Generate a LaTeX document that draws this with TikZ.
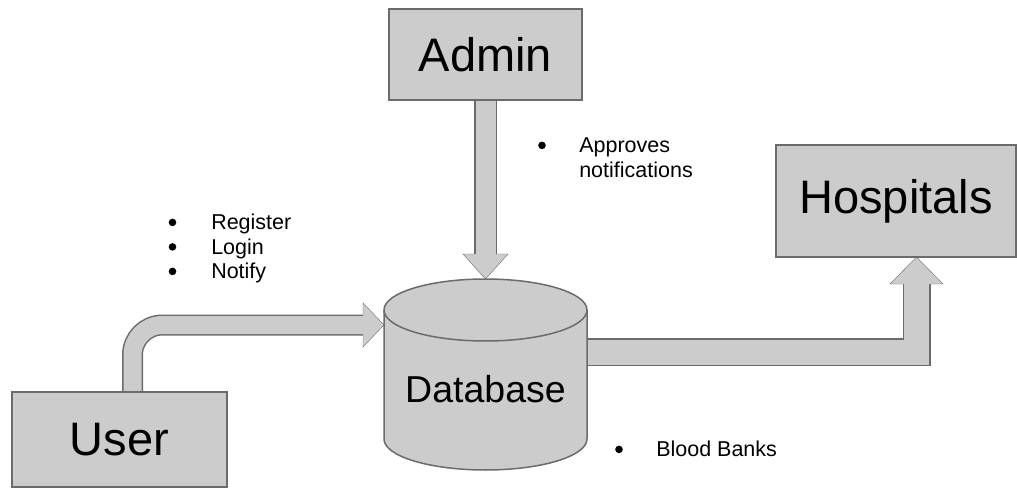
\documentclass[tikz,border=0pt]{standalone}
\usepackage{fontspec}
\setmainfont{Liberation Sans}
\usepackage{tikz}
\usetikzlibrary{backgrounds}

\definecolor{boxgray}{HTML}{CCCCCC}
\definecolor{edgegray}{HTML}{6B6B6B}

\begin{document}
\begin{tikzpicture}[x=1pt,y=1pt,line width=1.5pt,
    block/.style={rectangle,draw=edgegray,fill=boxgray,inner sep=0pt,outer sep=0pt,font=\fontsize{47}{50}\selectfont},
    pipe/.style={draw=edgegray,double=boxgray,line width=1.5pt},
    pipe head/.style={draw=edgegray,fill=boxgray},
    note/.style={anchor=base west,inner sep=0pt,font=\fontsize{21.5}{24.5}\selectfont}]
  \useasboundingbox (0,0) rectangle (1017,488);

  \node[block,minimum width=193pt,minimum height=91pt] (admin) at (485.5,433.5) {Admin};
  \node[block,minimum width=215pt,minimum height=95pt] (user) at (119.5,48.5) {User};
  \node[block,minimum width=240pt,minimum height=112pt] (hosp) at (896,287) {Hospitals};
  \node[minimum width=203pt,minimum height=191pt,inner sep=0pt,outer sep=0pt] (db) at (485.5,113.5) {};

  % database drum
  \path[pipe head] ([yshift=-31pt]db.north west) -- ([yshift=31pt]db.south west)
    arc[start angle=180,end angle=360,x radius=101.5pt,y radius=31pt]
    -- ([yshift=-31pt]db.north east)
    arc[start angle=0,end angle=180,x radius=101.5pt,y radius=31pt] -- cycle;
  \draw[edgegray] ([yshift=-31pt]db.north west)
    arc[start angle=180,end angle=360,x radius=101.5pt,y radius=31pt];
  \node[font=\fontsize{37.5}{40}\selectfont] at ([yshift=-15pt]db.center) {Database};

  % block arrows
  \begin{scope}[on background layer]
    % user -> database
    \draw[pipe,double distance=18pt,rounded corners=30pt] ([xshift=13pt]user.north) |- ([xshift=-21pt,yshift=49.5pt]db.west);
    \filldraw[pipe head] ([xshift=-21pt,yshift=59.25pt]db.west) -- ([xshift=-21pt,yshift=71.5pt]db.west)
      -- ([yshift=49.5pt]db.west) -- ([xshift=-21pt,yshift=27.5pt]db.west) -- ([xshift=-21pt,yshift=39.75pt]db.west);
    % admin -> database
    \draw[pipe,double distance=20pt] (admin.south) -- ([yshift=25pt]db.north);
    \filldraw[pipe head] ([xshift=-10.75pt,yshift=25pt]db.north) -- ([xshift=-22.5pt,yshift=25pt]db.north)
      -- (db.north) -- ([xshift=22.5pt,yshift=25pt]db.north) -- ([xshift=10.75pt,yshift=25pt]db.north);
    % database -> hospitals
    \draw[pipe,double distance=25pt] ([yshift=22.5pt]db.east) -| ([xshift=20.5pt,yshift=-27pt]hosp.south);
    \filldraw[pipe head] ([xshift=7.25pt,yshift=-27pt]hosp.south) -- ([xshift=-6pt,yshift=-27pt]hosp.south)
      -- ([xshift=20.5pt]hosp.south) -- ([xshift=47pt,yshift=-27pt]hosp.south) -- ([xshift=33.75pt,yshift=-27pt]hosp.south);
  \end{scope}

  % bullet notes
  \foreach \txt [count=\i] in {Register,Login,Notify} {
    \node[note] (user item \i) at (210.5,282.8-24.5*\i) {\txt};
    \fill ([xshift=-38pt,yshift=7.3pt]user item \i.base west) circle (3.8pt);
  }
  \node[note] (approves) at (578.5,335.3) {Approves};
  \node[note] (notifications) at (578.5,310.8) {notifications};
  \fill ([xshift=-36.5pt,yshift=7.3pt]approves.base west) circle (3.8pt);
  \node[note] (bloodbanks) at (655.5,31.3) {Blood Banks};
  \fill ([xshift=-36.5pt,yshift=7.3pt]bloodbanks.base west) circle (3.8pt);
\end{tikzpicture}
\end{document}
